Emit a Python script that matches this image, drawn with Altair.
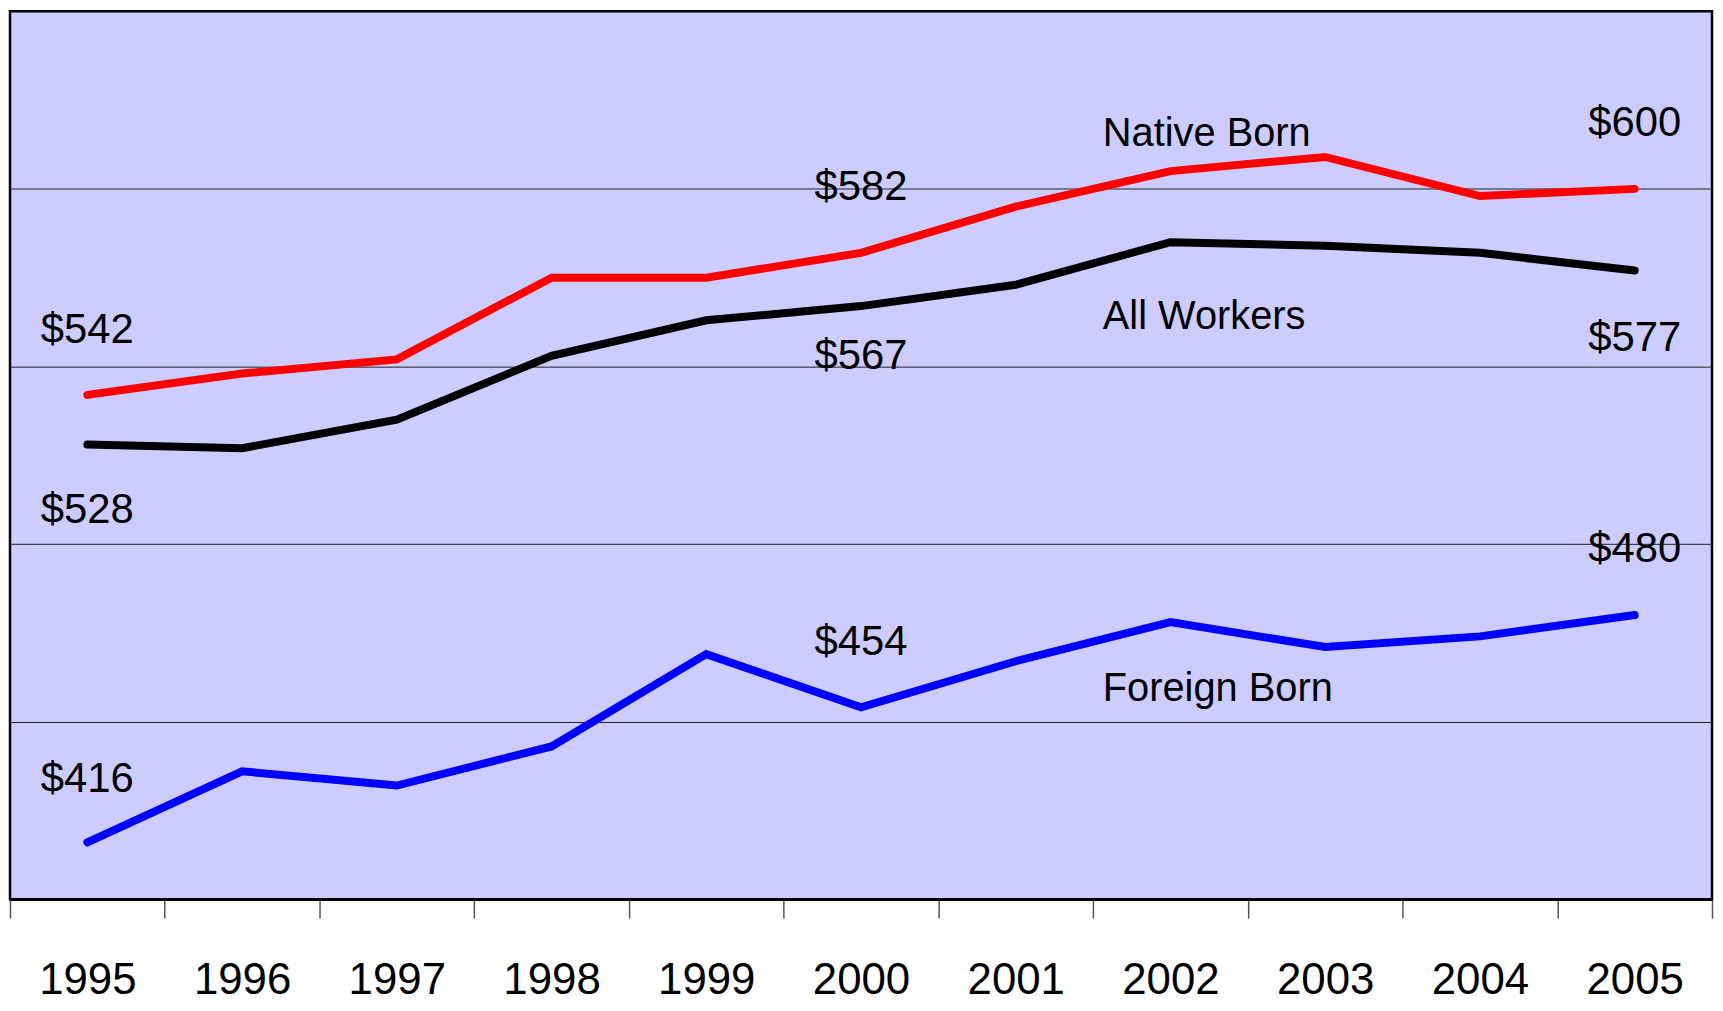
import altair as alt
import pandas as pd

FONT = "Liberation Sans, Arial, sans-serif"

years = [1995, 1996, 1997, 1998, 1999, 2000, 2001, 2002, 2003, 2004, 2005]
native_born = [542, 548, 552, 575, 575, 582, 595, 605, 609, 598, 600]
all_workers = [528, 527, 535, 553, 563, 567, 573, 585, 584, 582, 577]
foreign_born = [416, 436, 432, 443, 469, 454, 467, 478, 471, 474, 480]

series_names = ["Native Born", "All Workers", "Foreign Born"]
series_colors = ["#FF0000", "#000000", "#0000FF"]
grid_values = [450, 500, 550, 600]

# value labels: (series, year, text, vertical offset in px)
value_labels = [
    ("Native Born", 1995, "$542", -65),
    ("All Workers", 1995, "$528", 66),
    ("Foreign Born", 1995, "$416", -64),
    ("Native Born", 2000, "$582", -66),
    ("All Workers", 2000, "$567", 50),
    ("Foreign Born", 2000, "$454", -66),
    ("Native Born", 2005, "$600", -66),
    ("All Workers", 2005, "$577", 68),
    ("Foreign Born", 2005, "$480", -66),
]
# series name labels anchored at 2002 point: (series, dx, dy)
name_labels = [
    ("Native Born", -68, -37),
    ("All Workers", -68, 75),
    ("Foreign Born", -68, 67),
]

rows = []
for name, vals in zip(series_names, [native_born, all_workers, foreign_born]):
    for yr, v in zip(years, vals):
        rows.append({"series": name, "year": str(yr), "value": v})
df = pd.DataFrame(rows)

x_enc = alt.X(
    "year:O",
    scale=alt.Scale(type="band", paddingInner=0, paddingOuter=0),
    bandPosition=0.5,
    axis=alt.Axis(
        title=None, tickBand="extent", tickSize=19, tickColor="#555555", tickWidth=1.5,
        labelFont=FONT, labelFontSize=44, labelColor="black", labelAngle=0,
        labelPadding=76, labelBaseline="alphabetic", labelAlign="center",
        domain=True, domainColor="black", domainWidth=2.5, grid=False,
    ),
)
y_enc = alt.Y(
    "value:Q",
    scale=alt.Scale(domain=[400, 650], nice=False, zero=False),
    axis=alt.Axis(title=None, values=grid_values, labels=False, ticks=False,
                  domain=False, grid=True, gridColor="#222222", gridWidth=1),
)

base = alt.Chart(df)

lines = base.mark_line(strokeWidth=8, strokeCap="round", strokeJoin="miter").encode(
    x=x_enc, y=y_enc,
    color=alt.Color("series:N", scale=alt.Scale(domain=series_names, range=series_colors), legend=None),
    detail="series:N",
)

layers = [lines]
for s, yr, txt, dy in value_labels:
    layers.append(
        base.transform_filter((alt.datum.series == s) & (alt.datum.year == str(yr)))
        .mark_text(dy=dy, fontSize=42, font=FONT, baseline="middle", align="center", color="black")
        .encode(x=x_enc, y=y_enc, text=alt.value(txt))
    )
for s, dx, dy in name_labels:
    layers.append(
        base.transform_filter((alt.datum.series == s) & (alt.datum.year == "2002"))
        .mark_text(dx=dx, dy=dy, fontSize=40, font=FONT, baseline="middle", align="left", color="black")
        .encode(x=x_enc, y=y_enc, text=alt.value(s))
    )

chart = alt.layer(*layers).properties(
    width=1710, height=892,
    padding={"left": 1, "top": 1, "right": 2, "bottom": 0},
    background="white",
).configure_view(fill="#CCCCFF", stroke="black", strokeWidth=2.5)

chart.save("out.html", embed_options={"renderer": "svg", "actions": False})
